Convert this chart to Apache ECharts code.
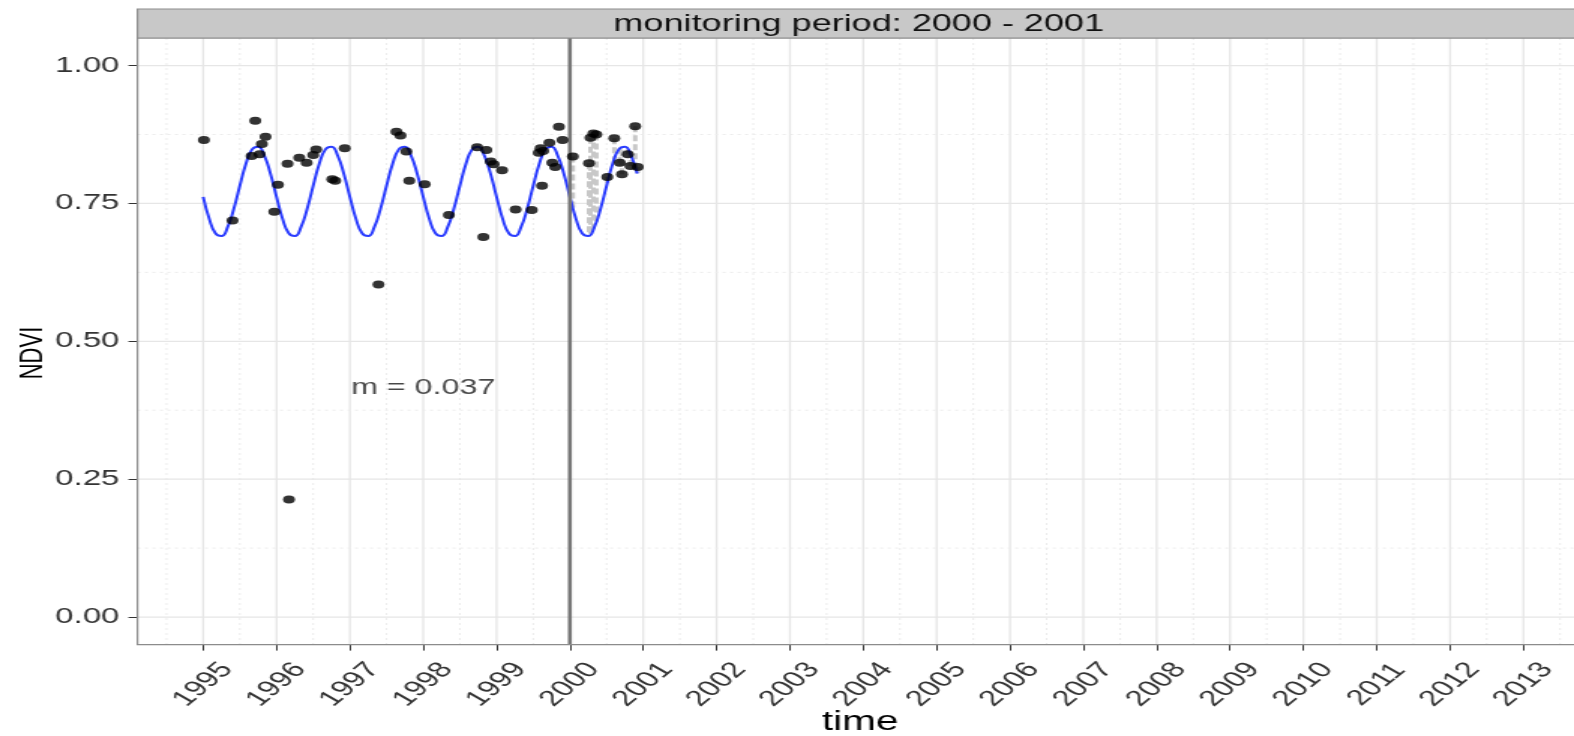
<!DOCTYPE html>
<html>
<head>
<meta charset="utf-8">
<title>NDVI monitoring</title>
<script src="https://cdn.jsdelivr.net/npm/echarts@6/dist/echarts.min.js"></script>
<style>
  html, body { margin: 0; padding: 0; background: #fff; overflow: hidden; }
  #wrap { width: 1574px; height: 736px; overflow: hidden; }
  /* the figure is drawn at its native width and stretched horizontally */
  #chart { width: 1049px; height: 736px; transform: scaleX(1.50048); transform-origin: 0 0; }
</style>
</head>
<body>
<div id="wrap"><div id="chart"></div></div>
<script>
// ---- axes ----
const years = [1995, 1996, 1997, 1998, 1999, 2000, 2001, 2002, 2003, 2004,
               2005, 2006, 2007, 2008, 2009, 2010, 2011, 2012, 2013];
const yTicks = [0, 0.25, 0.5, 0.75, 1];
const xRange = [1994.104, 2013.69];
const yRange = [-0.05, 1.05];

// ---- monitoring setup ----
const monitorStart = 2000;
const monitorEnd = 2001;
const magnitude = 0.037;
const magnitudeAt = [1998.0, 0.416];

// ---- history period observations ----
const histTime = [1995.01, 1995.40, 1995.66, 1995.71, 1995.77, 1995.80, 1995.85, 1995.97,
                  1996.02, 1996.15, 1996.17, 1996.31, 1996.41, 1996.50, 1996.54, 1996.76,
                  1996.80, 1996.93, 1997.39, 1997.635, 1997.69, 1997.77, 1997.81, 1998.02,
                  1998.35, 1998.735, 1998.82, 1998.86, 1998.92, 1998.96, 1999.075, 1999.26,
                  1999.48, 1999.575, 1999.60, 1999.62, 1999.635, 1999.72, 1999.76, 1999.80,
                  1999.85, 1999.90];
const histNdvi = [0.865, 0.719, 0.836, 0.900, 0.839, 0.858, 0.871, 0.735,
                  0.784, 0.822, 0.213, 0.833, 0.824, 0.838, 0.848, 0.794,
                  0.791, 0.850, 0.603, 0.880, 0.873, 0.844, 0.791, 0.785,
                  0.729, 0.852, 0.689, 0.847, 0.826, 0.821, 0.810, 0.739,
                  0.738, 0.842, 0.850, 0.782, 0.845, 0.860, 0.824, 0.816,
                  0.889, 0.865];

// ---- monitoring period observations and the model value at each ----
const monTime = [2000.04, 2000.26, 2000.28, 2000.32, 2000.36, 2000.51, 2000.605,
                 2000.68, 2000.71, 2000.79, 2000.825, 2000.89, 2000.925];
const monNdvi = [0.835, 0.823, 0.869, 0.877, 0.875, 0.798, 0.868,
                 0.824, 0.803, 0.839, 0.818, 0.890, 0.816];
const monFit  = [0.742, 0.691, 0.694, 0.703, 0.716, 0.787, 0.830,
                 0.850, 0.853, 0.848, 0.840, 0.816, 0.800];

// ---- fitted seasonal model (monthly samples) ----
const fitTime = [
  1995.000, 1995.083, 1995.167, 1995.250, 1995.333, 1995.417, 1995.500, 1995.583, 1995.667, 1995.750, 1995.833, 1995.917,
  1996.000, 1996.083, 1996.167, 1996.250, 1996.333, 1996.417, 1996.500, 1996.583, 1996.667, 1996.750, 1996.833, 1996.917,
  1997.000, 1997.083, 1997.167, 1997.250, 1997.333, 1997.417, 1997.500, 1997.583, 1997.667, 1997.750, 1997.833, 1997.917,
  1998.000, 1998.083, 1998.167, 1998.250, 1998.333, 1998.417, 1998.500, 1998.583, 1998.667, 1998.750, 1998.833, 1998.917,
  1999.000, 1999.083, 1999.167, 1999.250, 1999.333, 1999.417, 1999.500, 1999.583, 1999.667, 1999.750, 1999.833, 1999.917,
  2000.000, 2000.083, 2000.167, 2000.250, 2000.333, 2000.417, 2000.500, 2000.583, 2000.667, 2000.750, 2000.833, 2000.917];
const fitNdvi = [
  0.762, 0.722, 0.696, 0.691, 0.707, 0.740, 0.782, 0.822, 0.848, 0.853, 0.837, 0.804,
  0.762, 0.722, 0.696, 0.691, 0.707, 0.740, 0.782, 0.822, 0.848, 0.853, 0.837, 0.804,
  0.762, 0.722, 0.696, 0.691, 0.707, 0.740, 0.782, 0.822, 0.848, 0.853, 0.837, 0.804,
  0.762, 0.722, 0.696, 0.691, 0.707, 0.740, 0.782, 0.822, 0.848, 0.853, 0.837, 0.804,
  0.762, 0.722, 0.696, 0.691, 0.707, 0.740, 0.782, 0.822, 0.848, 0.853, 0.837, 0.804,
  0.762, 0.722, 0.696, 0.691, 0.707, 0.740, 0.782, 0.822, 0.848, 0.853, 0.837, 0.804];

// ---- build series data ----
const zip = (a, b) => a.map((v, i) => [v, b[i]]);
const histData = zip(histTime, histNdvi);
const monData = zip(monTime, monNdvi);
const fitData = zip(fitTime, fitNdvi);
const residData = monTime.map((t, i) => [t, monNdvi[i], monFit[i]]);

// grid lines: [value, 0 = vertical / 1 = horizontal, 1 = major / 0 = minor]
const gridData = [];
years.forEach(y => gridData.push([y, 0, 1]));
[years[0] - 1].concat(years).forEach(y => gridData.push([y + 0.5, 0, 0]));
yTicks.forEach(v => gridData.push([v, 1, 1]));
yTicks.slice(0, -1).forEach((v, i) => gridData.push([(v + yTicks[i + 1]) / 2, 1, 0]));

const FONT = '"Liberation Sans", Arial, Helvetica, sans-serif';
const PANEL_LEFT = 91.6, PANEL_TOP = 38, PANEL_BOTTOM = 91.4;
const W = 1049, H = 736;

const chart = echarts.init(document.getElementById('chart'), null, { renderer: 'canvas' });

chart.setOption({
  animation: false,
  backgroundColor: '#ffffff',
  grid: {
    left: PANEL_LEFT, right: 0, top: PANEL_TOP, bottom: PANEL_BOTTOM,
    containLabel: false,
    outerBoundsMode: 'none'
  },
  xAxis: {
    type: 'value',
    min: xRange[0],
    max: xRange[1],
    axisLine: { show: false, onZero: false },
    axisTick: { show: true, customValues: years, length: 6, lineStyle: { color: '#333', width: 1 } },
    axisLabel: {
      customValues: years,
      rotate: 50,
      align: 'center',
      verticalAlign: 'middle',
      margin: 40,
      fontFamily: FONT,
      fontSize: 22,
      color: '#333',
      hideOverlap: false,
      formatter: v => String(Math.round(v))
    },
    splitLine: { show: false },
    minorSplitLine: { show: false }
  },
  yAxis: {
    type: 'value',
    min: yRange[0],
    max: yRange[1],
    axisLine: { show: false, onZero: false },
    axisTick: { show: true, customValues: yTicks, length: 6, lineStyle: { color: '#333', width: 1 } },
    axisLabel: {
      customValues: yTicks,
      margin: 12,
      fontFamily: FONT,
      fontSize: 22,
      color: '#333',
      formatter: v => v.toFixed(2)
    },
    splitLine: { show: false }
  },
  graphic: [
    {
      type: 'rect',
      z: 100,
      shape: { x: PANEL_LEFT, y: PANEL_TOP, width: W, height: H - PANEL_TOP - PANEL_BOTTOM },
      style: { fill: 'none', stroke: '#8c8c8c', lineWidth: 1.2 },
      silent: true
    },
    {
      type: 'rect',
      z: 101,
      shape: { x: PANEL_LEFT, y: 9, width: W, height: PANEL_TOP - 9 },
      style: { fill: '#c8c8c8', stroke: '#8c8c8c', lineWidth: 1.2 },
      silent: true
    },
    {
      type: 'text',
      z: 102,
      x: (PANEL_LEFT + W) / 2 + 2,
      y: (9 + PANEL_TOP) / 2 + 1,
      style: {
        text: 'monitoring period: ' + monitorStart + ' - ' + monitorEnd,
        fontFamily: FONT,
        fontSize: 24,
        fill: '#111',
        align: 'center',
        verticalAlign: 'middle'
      },
      silent: true
    },
    {
      // x axis title
      type: 'text',
      z: 102,
      x: (PANEL_LEFT + W) / 2 + 3,
      y: 723,
      style: {
        text: 'time',
        fontFamily: FONT,
        fontSize: 27,
        fill: '#000',
        align: 'center',
        verticalAlign: 'middle'
      },
      silent: true
    },
    {
      // y axis title
      type: 'text',
      z: 102,
      x: 22,
      y: 353,
      rotation: Math.PI / 2,
      style: {
        text: 'NDVI',
        fontFamily: FONT,
        fontSize: 22,
        fill: '#000',
        align: 'center',
        verticalAlign: 'middle'
      },
      silent: true
    }
  ],
  series: [
    {
      // panel grid lines
      type: 'custom',
      z: 0,
      silent: true,
      clip: false,
      data: gridData,
      renderItem: (params, api) => {
        const cs = params.coordSys;
        const v = api.value(0), horiz = api.value(1) === 1, major = api.value(2) === 1;
        const style = major
          ? { stroke: '#e6e6e6', lineWidth: 1.3 }
          : { stroke: '#ececec', lineWidth: 1, lineDash: [2, 3] };
        let shape;
        if (horiz) {
          const py = api.coord([xRange[0], v])[1];
          shape = { x1: cs.x, y1: py, x2: cs.x + cs.width, y2: py };
        } else {
          const px = api.coord([v, yRange[0]])[0];
          shape = { x1: px, y1: cs.y, x2: px, y2: cs.y + cs.height };
        }
        return { type: 'line', shape, style };
      }
    },
    {
      // residuals of the monitoring observations from the model
      type: 'custom',
      z: 1,
      silent: true,
      data: residData,
      renderItem: (params, api) => {
        const a = api.coord([api.value(0), api.value(1)]);
        const b = api.coord([api.value(0), api.value(2)]);
        return {
          type: 'line',
          shape: { x1: a[0], y1: a[1], x2: b[0], y2: b[1] },
          style: { stroke: '#c8c8c8', lineWidth: 3, lineDash: [6, 3] }
        };
      }
    },
    {
      // fitted seasonal model
      type: 'line',
      z: 2,
      data: fitData,
      showSymbol: false,
      smooth: 0.5,
      silent: true,
      lineStyle: { color: '#2a3cff', width: 2 }
    },
    {
      // start of the monitoring period
      type: 'custom',
      z: 3,
      silent: true,
      data: [[monitorStart]],
      renderItem: (params, api) => {
        const cs = params.coordSys;
        const px = api.coord([api.value(0), yRange[0]])[0];
        return {
          type: 'line',
          shape: { x1: px, y1: cs.y, x2: px, y2: cs.y + cs.height },
          style: { stroke: '#777777', lineWidth: 2.6 }
        };
      }
    },
    {
      name: 'history',
      type: 'scatter',
      z: 4,
      data: histData,
      symbol: 'circle',
      symbolSize: 8,
      itemStyle: { color: '#000' },
      silent: true
    },
    {
      name: 'monitoring',
      type: 'scatter',
      z: 4,
      data: monData,
      symbol: 'circle',
      symbolSize: 8,
      itemStyle: { color: '#000' },
      silent: true
    },
    {
      // magnitude annotation
      type: 'scatter',
      z: 5,
      data: [magnitudeAt],
      symbolSize: 0,
      silent: true,
      label: {
        show: true,
        position: 'inside',
        formatter: () => 'm = ' + magnitude.toFixed(3),
        fontFamily: FONT,
        fontSize: 21.5,
        color: '#1a1a1a'
      }
    }
  ]
});
</script>
</body>
</html>
